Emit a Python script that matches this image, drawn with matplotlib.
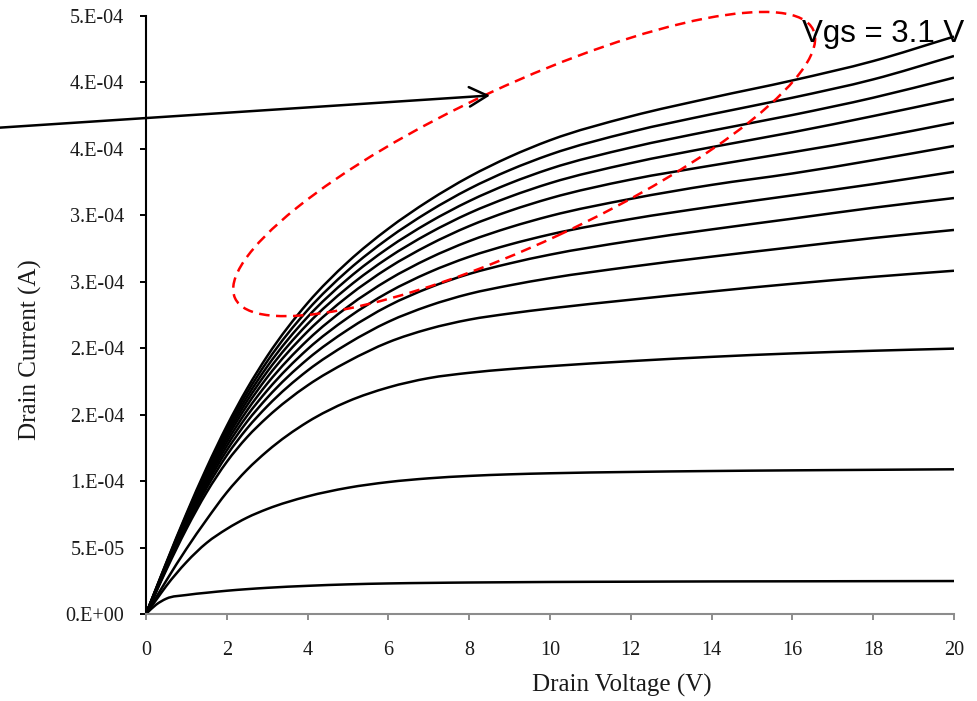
import numpy as np
import matplotlib
matplotlib.use("Agg")
import matplotlib.pyplot as plt
from matplotlib.patches import Ellipse, PathPatch
from matplotlib.path import Path
from matplotlib.transforms import ScaledTranslation

# Drain voltage (V)
vd = [0, 0.25, 0.5, 1, 1.5, 2, 2.5, 3, 4, 5, 6, 7, 8, 9, 10, 12, 14, 16, 18, 20]

# Drain current (uA), bottom curve to top curve (Vgs increasing, top = 3.1 V)
id_c1 = [0, 7.0, 11.5, 14.3, 16.0, 17.5, 18.7, 19.7, 21.2, 22.3, 23.0, 23.4, 23.7, 23.9, 24.1, 24.3, 24.5, 24.6, 24.7, 24.8]
id_c2 = [0, 10.5, 21.0, 39.0, 53.5, 64.0, 72.5, 79.0, 88.5, 95.0, 99.3, 102.1, 103.9, 105.1, 105.9, 106.9, 107.6, 108.1, 108.5, 108.9]
id_c3 = [0, 12.5, 25.0, 49.0, 71.0, 91.5, 108.5, 122.5, 144.5, 160.0, 170.5, 177.5, 181.5, 184.3, 186.5, 190.3, 193.5, 196.1, 198.1, 199.7]
id_c4 = [0, 16.5, 33.0, 64.0, 91.5, 114.5, 133.0, 148.0, 172.0, 190.0, 204.5, 214.5, 221.5, 226.1, 229.9, 236.5, 242.7, 248.5, 253.7, 258.3]
id_c5 = [0, 17.0, 34.0, 66.1, 94.8, 119.4, 139.6, 156.3, 183.2, 203.5, 219.9, 231.9, 240.9, 247.3, 252.7, 261.3, 268.9, 276.0, 282.9, 289.0]
id_c6 = [0, 17.4, 34.8, 67.7, 97.4, 123.1, 144.7, 162.7, 191.8, 214.0, 231.9, 245.4, 255.9, 263.8, 270.4, 280.7, 289.4, 297.5, 305.7, 313.0]
id_c7 = [0, 17.7, 35.4, 69.1, 99.6, 126.4, 149.1, 168.2, 199.3, 223.0, 242.1, 257.0, 268.8, 278.0, 285.6, 297.2, 306.5, 315.0, 323.5, 332.8]
id_c8 = [0, 18.0, 36.0, 70.3, 101.7, 129.4, 153.1, 173.3, 206.1, 231.3, 251.5, 267.6, 280.6, 290.9, 299.5, 312.4, 322.9, 331.5, 341.5, 352.2]
id_c9 = [0, 18.3, 36.6, 71.5, 103.6, 132.2, 156.9, 178.1, 212.6, 239.1, 260.5, 277.7, 291.9, 303.3, 312.8, 326.9, 337.5, 347.5, 358.0, 369.7]
id_c10 = [0, 18.6, 37.1, 72.6, 105.3, 134.6, 160.2, 182.3, 218.2, 245.9, 268.2, 286.4, 301.6, 313.9, 324.2, 339.3, 351.3, 362.5, 374.7, 387.5]
id_c11 = [0, 18.8, 37.6, 73.5, 106.9, 136.9, 163.3, 186.2, 223.5, 252.3, 275.5, 294.6, 310.7, 324.0, 335.0, 351.0, 363.7, 375.5, 388.5, 403.6]
id_c12 = [0, 19.1, 38.0, 74.5, 108.4, 139.2, 166.4, 190.1, 228.7, 258.6, 282.7, 302.8, 319.9, 334.0, 345.7, 362.8, 376.1, 388.5, 402.3, 419.9]
id_c13 = [0, 19.3, 38.5, 75.5, 110.0, 141.5, 169.5, 194.0, 234.0, 265.0, 290.0, 311.0, 329.0, 344.0, 356.5, 374.5, 388.5, 401.5, 416.1, 434.5]

curves = [id_c1, id_c2, id_c3, id_c4, id_c5, id_c6, id_c7, id_c8, id_c9,
          id_c10, id_c11, id_c12, id_c13]

yticks = [0, 5e-5, 1e-4, 1.5e-4, 2e-4, 2.5e-4, 3e-4, 3.5e-4, 4e-4, 4.5e-4]
ytick_labels = ["0.E+00", "5.E-05", "1.E-04", "2.E-04", "2.E-04", "3.E-04",
                "3.E-04", "4.E-04", "4.E-04", "5.E-04"]
xticks = [0, 2, 4, 6, 8, 10, 12, 14, 16, 18, 20]

annot_text = "Vgs = 3.1 V"

SERIF = ["Liberation Serif", "DejaVu Serif"]
SANS = ["Liberation Sans", "DejaVu Sans"]


def smooth_path(x, y):
    """Smoothed line through the data points (cubic Bezier segments)."""
    x = np.asarray(x, float)
    y = np.asarray(y, float)
    h = np.diff(x)
    d = np.diff(y) / h
    m = np.zeros_like(y)
    m[0] = d[0]
    m[-1] = d[-1]
    for i in range(1, len(x) - 1):
        m[i] = (h[i] * d[i - 1] + h[i - 1] * d[i]) / (h[i - 1] + h[i])
    verts = [(x[0], y[0])]
    codes = [Path.MOVETO]
    for i in range(len(x) - 1):
        verts += [(x[i] + h[i] / 3, y[i] + m[i] * h[i] / 3),
                  (x[i + 1] - h[i] / 3, y[i + 1] - m[i + 1] * h[i] / 3),
                  (x[i + 1], y[i + 1])]
        codes += [Path.CURVE4] * 3
    return Path(verts, codes)


fig = plt.figure(figsize=(9.78, 7.01), dpi=100)
ax = fig.add_axes([146 / 978, 87 / 701, 808 / 978, 598 / 701])

for c in curves:
    p = smooth_path(vd, np.array(c) * 1e-6)
    ax.add_patch(PathPatch(p, fill=False, edgecolor="black", lw=1.8,
                           joinstyle="round", capstyle="butt"))

ax.set_xlim(0, 20)
ax.set_ylim(0, 4.5e-4)
ax.set_xticks(xticks)
ax.set_xticklabels([str(t) for t in xticks])
ax.set_yticks(yticks)
ax.set_yticklabels(ytick_labels)

for s in ["top", "right"]:
    ax.spines[s].set_visible(False)
ax.spines["left"].set_color("black")
ax.spines["left"].set_linewidth(1.5)
ax.spines["bottom"].set_color("#8c8c8c")
ax.spines["bottom"].set_linewidth(1.5)

ax.tick_params(axis="y", direction="out", length=4.5, width=1.4, color="black",
               pad=11, labelsize=14.5, labelcolor="#1a1a1a")
ax.tick_params(axis="x", direction="out", length=4.5, width=1.4, color="#8c8c8c",
               pad=15, labelsize=14.5, labelcolor="#1a1a1a")
for lab in ax.get_xticklabels() + ax.get_yticklabels():
    lab.set_fontfamily(SERIF)

ax.set_xlabel("Drain Voltage (V)", fontsize=18, family=SERIF, color="#1a1a1a", va="center")
ax.xaxis.set_label_coords(0.589, -0.119)
ax.set_ylabel("Drain Current (A)", fontsize=18, family=SERIF, color="#1a1a1a", va="center")
ax.yaxis.set_label_coords(-0.1436, 0.4415)

# Arrow pointing into the highlighted region
ax.annotate("", xy=(8.515, 390.2e-6), xytext=(-3.614, 366.0e-6),
            xycoords="data", textcoords="data", annotation_clip=False,
            arrowprops=dict(arrowstyle="->,head_length=1.3,head_width=0.7",
                            lw=1.8, color="black", shrinkA=0, shrinkB=0,
                            mutation_scale=10))

# Red dashed ellipse highlighting the upper curves
ell = Ellipse((0, 0), 6.374, 1.58, angle=24.9, fill=False, edgecolor="red",
              lw=1.8, linestyle=(0, (4.2, 2.6)),
              transform=fig.dpi_scale_trans + ScaledTranslation(9.36, 338.6e-6, ax.transData),
              clip_on=False)
ax.add_patch(ell)

ax.text(0.8115, 0.957, annot_text, transform=ax.transAxes, fontsize=22.5,
        family=SANS, ha="left", va="baseline", color="black", clip_on=False)

fig.savefig("out.png", dpi=100)
